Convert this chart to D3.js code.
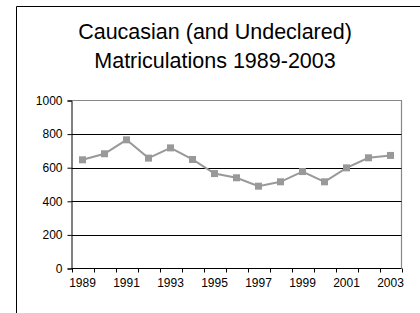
<!DOCTYPE html>
<html><head><meta charset="utf-8">
<script src="https://cdn.jsdelivr.net/npm/d3@7"></script>
<style>html,body{margin:0;padding:0;background:#fff;}svg{display:block;}</style>
</head><body>
<svg id="c" width="420" height="313"></svg>
<script>
const years = [1989,1990,1991,1992,1993,1994,1995,1996,1997,1998,1999,2000,2001,2002,2003];
const values = [647,683,766,657,718,649,565,540,490,516,577,516,599,659,673];
const yTicks = [0,200,400,600,800,1000];
const xLabels = [1989,1991,1993,1995,1997,1999,2001,2003];
const titleLines = ["Caucasian (and Undeclared)","Matriculations 1989-2003"];

const svg = d3.select("#c");
const font = "'Liberation Sans', Arial, sans-serif";
const L = 71.5, R = 401.5, T = 100.5, B = 268.5;

// outer chart border
svg.append("path").attr("d", `M16.5,313 V6.5 H420`).attr("fill","none").attr("stroke","#000").attr("stroke-width",1);

svg.selectAll("text.title").data(titleLines).enter().append("text")
  .attr("x", 215).attr("y", (d,i)=>39 + i*29).attr("text-anchor","middle")
  .attr("font-family", font).attr("font-size", 21.5).attr("fill","#000").text(d=>d);

const x = d3.scaleBand().domain(years).range([L, R]);
const y = d3.scaleLinear().domain([0,1000]).range([B, T]);

// plot area border (gray top/right)
svg.append("path").attr("d", `M${L},${T} H${R} V${B}`).attr("fill","none").attr("stroke","#888").attr("stroke-width",1.2);

// gridlines
svg.append("g").selectAll("line").data(yTicks.filter(d=>d>0 && d<1000)).enter().append("line")
  .attr("x1", L).attr("x2", R).attr("y1", d=>Math.round(y(d))+0.5).attr("y2", d=>Math.round(y(d))+0.5)
  .attr("stroke","#000").attr("stroke-width",1);

// y axis
const yAxis = d3.axisLeft(y).tickValues(yTicks).tickFormat(d3.format("d")).tickSize(4).tickPadding(5);
const gy = svg.append("g").attr("transform", `translate(${L},0)`).call(yAxis);
gy.select(".domain").attr("stroke","#000");
gy.selectAll("text").attr("font-family", font).attr("font-size", 12).attr("fill","#000");

// x axis: ticks at band boundaries
const bounds = years.map(d=>x(d)).concat([R]);
const gx = svg.append("g");
gx.append("line").attr("x1", L).attr("x2", R).attr("y1", B).attr("y2", B).attr("stroke","#000");
gx.selectAll("line.t").data(bounds).enter().append("line")
  .attr("x1", d=>Math.round(d)+0.5).attr("x2", d=>Math.round(d)+0.5).attr("y1", B).attr("y2", B+4).attr("stroke","#000");
gx.selectAll("text").data(xLabels).enter().append("text")
  .attr("x", d=>x(d)+x.bandwidth()/2).attr("y", 287).attr("text-anchor","middle")
  .attr("font-family", font).attr("font-size", 12).attr("fill","#000").text(d=>d);

// line
const cx = d=>x(d)+x.bandwidth()/2;
svg.append("path").datum(years.map((d,i)=>[d,values[i]]))
  .attr("d", d3.line().x(d=>cx(d[0])).y(d=>y(d[1])))
  .attr("fill","none").attr("stroke","#999").attr("stroke-width",2);
svg.selectAll("rect.m").data(years.map((d,i)=>[d,values[i]])).enter().append("rect")
  .attr("x", d=>cx(d[0])-3.5).attr("y", d=>y(d[1])-3.5).attr("width",7).attr("height",7)
  .attr("fill","#999");
</script>
</body></html>
